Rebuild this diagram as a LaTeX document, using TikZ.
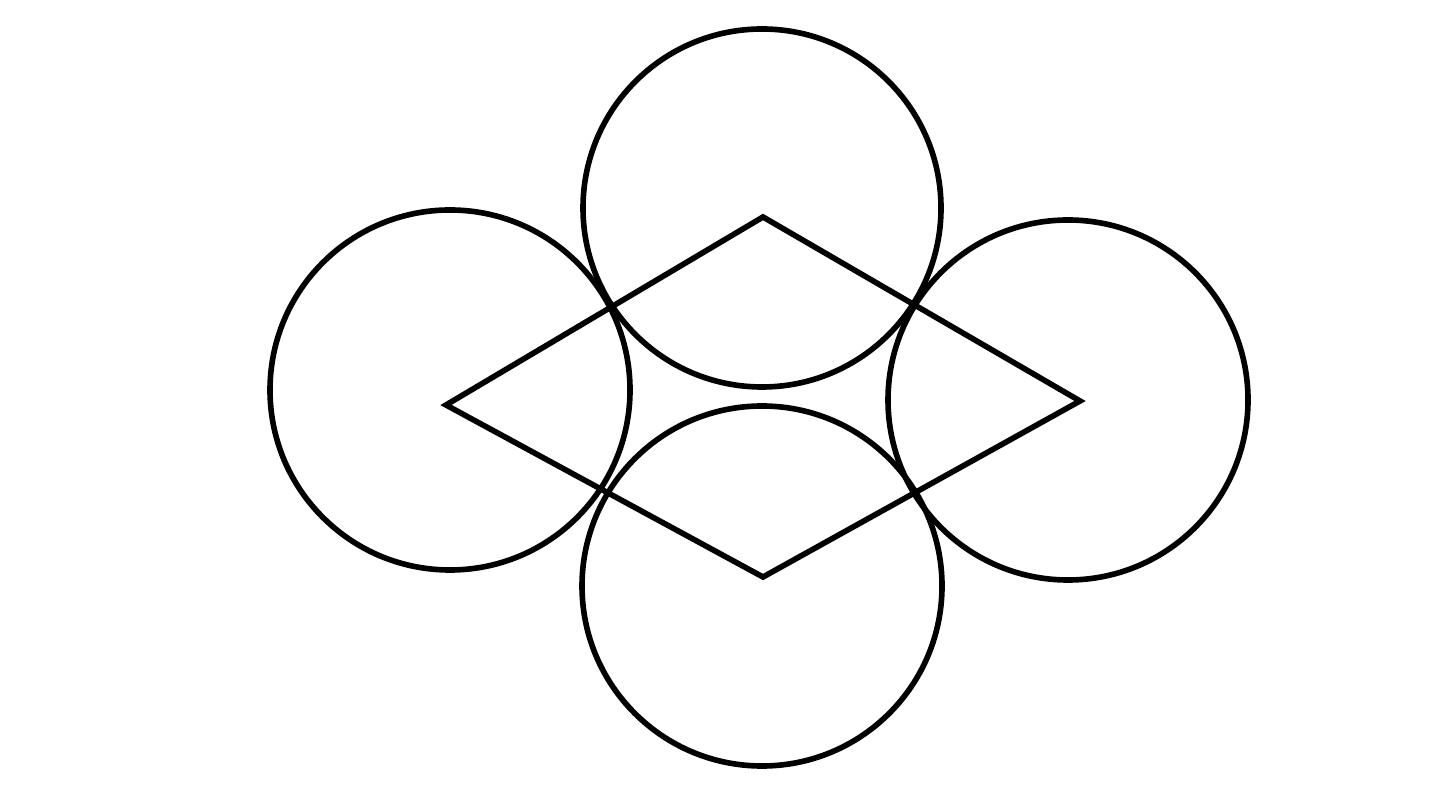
\documentclass[tikz,border=0pt]{standalone}
\usepackage{tikz}
\usetikzlibrary{positioning}

\begin{document}
\begin{tikzpicture} [ring/.style = {draw, circle, line width = 1.6pt, inner sep = 0pt}]
\useasboundingbox (0,0) rectangle (14.53,8);
\node[ring, minimum size = 3.58cm](top) at (7.62,5.92){};
\node[ring, minimum size = 3.60cm](left) at (4.50,4.10){};
\node[ring, minimum size = 3.60cm](right) at (10.68,4.00){};
\node[ring, minimum size = 3.60cm](bottom) at (7.62,2.14){};
\coordinate (n) at (7.63,5.83);
\coordinate (w) at (4.46,3.95);
\coordinate (s) at (7.63,2.23);
\coordinate (e) at (10.80,3.99);
\draw [line width = 1.6pt, line join = miter](n) -- (w) -- (s) -- (e) -- cycle;
\end{tikzpicture}
\end{document}
